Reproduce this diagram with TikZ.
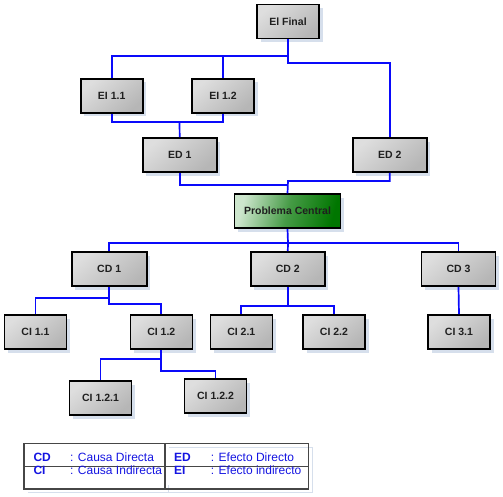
\documentclass[tikz,border=0pt]{standalone}
\usepackage{fontspec}
\setmainfont{Liberation Sans}
\usetikzlibrary{shadows}
\definecolor{shc}{RGB}{214,223,236}
\definecolor{lnblue}{RGB}{10,10,250}
\definecolor{legblue}{RGB}{20,20,225}
\definecolor{tabgray}{RGB}{70,70,70}
\definecolor{pcdark}{RGB}{0,118,0}
\definecolor{pcmid}{RGB}{70,155,70}
\definecolor{pclight}{RGB}{205,230,205}
\definecolor{boxlight}{RGB}{222,222,222}
\definecolor{boxdark}{RGB}{182,182,182}
\tikzset{
  box/.style={draw=black, line width=1.6pt, top color=boxlight, bottom color=boxdark, shading angle=40,
    minimum height=34pt, minimum width=62pt, inner sep=0pt,
    font=\fontsize{10.5}{12}\selectfont\bfseries, text=black!88,
    drop shadow={shadow xshift=3.5pt, shadow yshift=-3.5pt, fill=shc, opacity=1}},
  pcbox/.style={box, top color=pclight, bottom color=pcdark, middle color=pcmid, shading angle=75},
  conn/.style={draw=lnblue, line width=1.7pt},
  tab/.style={draw=tabgray, line width=1.2pt},
  tabsh/.style={draw=shc, line width=1pt},
  leg/.style={anchor=base west, inner sep=0pt, text=legblue, font=\fontsize{12}{14}\selectfont},
  legb/.style={leg, font=\fontsize{12}{14}\selectfont\bfseries}
}
\begin{document}
\begin{tikzpicture}[x=1pt,y=-1pt]
\useasboundingbox (0,0) rectangle (503,496);
% nodes
\node[box] (elfinal) at (288,21.5) {El Final};
\node[box] (ei11) at (111.7,95.8) {EI 1.1};
\node[box] (ei12) at (223,95.8) {EI 1.2};
\node[box, minimum width=74pt] (ed1) at (179.7,155) {ED 1};
\node[box, minimum width=74pt] (ed2) at (389.7,155) {ED 2};
\node[pcbox, minimum width=106pt] (pc) at (287.5,211.2) {Problema Central};
\node[box, minimum width=75pt] (cd1) at (109.2,269) {CD 1};
\node[box, minimum width=74pt] (cd2) at (287.8,269) {CD 2};
\node[box, minimum width=74pt] (cd3) at (458.5,269) {CD 3};
\node[box] (ci11) at (35.5,332) {CI 1.1};
\node[box] (ci12) at (161.3,332) {CI 1.2};
\node[box] (ci21) at (241.3,332) {CI 2.1};
\node[box] (ci22) at (334,332) {CI 2.2};
\node[box] (ci31) at (459,332) {CI 3.1};
\node[box] (ci121) at (100.5,398) {CI 1.2.1};
\node[box] (ci122) at (215.5,396) {CI 1.2.2};
% junctions
\coordinate (j1) at (288,56);
\coordinate (j1b) at (288,63);
\coordinate (j2) at (179.5,121.7);
\coordinate (j3a) at (288,185.3);
\coordinate (j3b) at (288,181);
\coordinate (j4) at (288,242.7);
\coordinate (j5a) at (109.2,297.7);
\coordinate (j5b) at (109.2,304);
\coordinate (j6) at (287.8,306.3);
\coordinate (j7a) at (161.3,359);
\coordinate (j7b) at (161.3,370.7);
% connectors
\draw[conn] (elfinal.south) -- (j1b) -| (ed2.north);
\draw[conn] (ei11.north) |- (j1) -| (ei12.north);
\draw[conn] (ei11.south) |- (j2) -| (ei12.south);
\draw[conn] (j2) -- (ed1.north);
\draw[conn] (ed1.south) |- (j3a);
\draw[conn] (ed2.south) |- (j3b) -- (pc.north);
\draw[conn] (pc.south) -- (j4);
\draw[conn] (cd1.north) |- (j4) -| (cd3.north);
\draw[conn] (j4) -- (cd2.north);
\draw[conn] (cd1.south) -- (j5b) -| (ci12.north);
\draw[conn] (j5a) -| (ci11.north);
\draw[conn] (cd2.south) -- (j6);
\draw[conn] (ci21.north) |- (j6) -| (ci22.north);
\draw[conn] (cd3.south) -- (ci31.north);
\draw[conn] (ci12.south) -- (j7b) -| (ci122.north);
\draw[conn] (j7a) -| (ci121.north);
% legend
\coordinate (t1) at (24,443.3);
\coordinate (t2) at (308.3,489);
\draw[tabsh] (28,492.7) -- (312.7,492.7) -- (312.7,447);
\draw[tabsh] (168.5,447) -- (312.7,447);
\draw[tabsh] (168.5,485) -- (168.5,492.7);
\draw[tab] (t1) rectangle (t2);
\draw[tab] (165,443.3) -- (165,489);
\draw[tab] (24,466.7) -- (308.3,466.7);
\node[legb] (lcd) at (33.3,461.5) {CD};
\node[leg] (lcdt) at (70,461.5) {: Causa Directa};
\node[legb] (lci) at (33.3,474) {CI};
\node[leg] (lcit) at (70,474) {: Causa Indirecta};
\node[legb] (led) at (174,461.5) {ED};
\node[leg] (ledt) at (210.7,461.5) {: Efecto Directo};
\node[legb] (lei) at (174,474) {EI};
\node[leg] (leit) at (210.7,474) {: Efecto indirecto};
\end{tikzpicture}
\end{document}
